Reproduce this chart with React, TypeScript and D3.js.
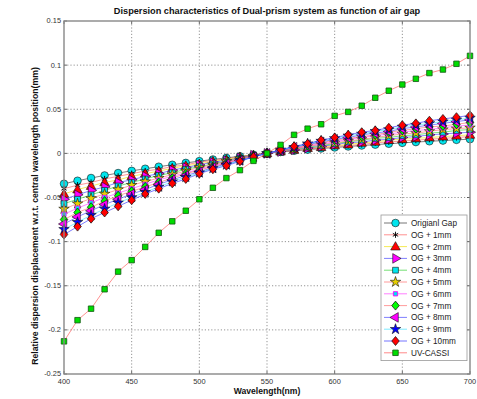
import React from 'react';
import * as d3 from 'd3';

// wavelength samples (nm)
const wavelengths = [400, 410, 420, 430, 440, 450, 460, 470, 480, 490, 500, 510, 520, 530, 540, 550,
  560, 570, 580, 590, 600, 610, 620, 630, 640, 650, 660, 670, 680, 690, 700];

// relative displacement (mm)
const og0 = [-0.0344, -0.031, -0.0279, -0.025, -0.0223, -0.0198, -0.0174, -0.0151, -0.0129, -0.0108, -0.0088, -0.0069, -0.0051, -0.0033, -0.0016, 0,
  0.0015, 0.0029, 0.0042, 0.0055, 0.0067, 0.0078, 0.0089, 0.0099, 0.0109, 0.0119, 0.0128, 0.0137, 0.0145, 0.0153, 0.0161];
const og1 = [-0.040, -0.036, -0.033, -0.029, -0.026, -0.023, -0.020, -0.018, -0.015, -0.013, -0.010, -0.008, -0.006, -0.004, -0.002, 0,
  0.002, 0.003, 0.005, 0.006, 0.008, 0.009, 0.010, 0.012, 0.013, 0.014, 0.015, 0.016, 0.017, 0.018, 0.019];
const og2 = [-0.046, -0.041, -0.037, -0.033, -0.030, -0.026, -0.023, -0.020, -0.017, -0.014, -0.012, -0.009, -0.007, -0.004, -0.002, 0,
  0.002, 0.004, 0.006, 0.007, 0.009, 0.010, 0.012, 0.013, 0.015, 0.016, 0.017, 0.018, 0.019, 0.020, 0.021];
const og3 = [-0.052, -0.047, -0.042, -0.038, -0.033, -0.030, -0.026, -0.023, -0.019, -0.016, -0.013, -0.010, -0.008, -0.005, -0.002, 0,
  0.002, 0.004, 0.006, 0.008, 0.010, 0.012, 0.013, 0.015, 0.016, 0.018, 0.019, 0.021, 0.022, 0.023, 0.024];
const og4 = [-0.057, -0.052, -0.047, -0.042, -0.037, -0.033, -0.029, -0.025, -0.022, -0.018, -0.015, -0.012, -0.009, -0.006, -0.003, 0,
  0.003, 0.005, 0.007, 0.009, 0.011, 0.013, 0.015, 0.017, 0.018, 0.020, 0.021, 0.023, 0.024, 0.026, 0.027];
const og5 = [-0.063, -0.057, -0.051, -0.046, -0.041, -0.036, -0.032, -0.028, -0.024, -0.020, -0.016, -0.013, -0.009, -0.006, -0.003, 0,
  0.003, 0.005, 0.008, 0.010, 0.012, 0.014, 0.016, 0.018, 0.020, 0.022, 0.023, 0.025, 0.027, 0.028, 0.029];
const og6 = [-0.069, -0.062, -0.056, -0.050, -0.045, -0.040, -0.035, -0.030, -0.026, -0.022, -0.018, -0.014, -0.010, -0.007, -0.003, 0,
  0.003, 0.006, 0.008, 0.011, 0.013, 0.016, 0.018, 0.020, 0.022, 0.024, 0.026, 0.027, 0.029, 0.031, 0.032];
const og7 = [-0.075, -0.067, -0.061, -0.054, -0.048, -0.043, -0.038, -0.033, -0.028, -0.023, -0.019, -0.015, -0.011, -0.007, -0.003, 0,
  0.003, 0.006, 0.009, 0.012, 0.015, 0.017, 0.019, 0.021, 0.024, 0.026, 0.028, 0.030, 0.031, 0.033, 0.035];
const og8 = [-0.080, -0.072, -0.065, -0.058, -0.052, -0.046, -0.041, -0.035, -0.030, -0.025, -0.021, -0.016, -0.012, -0.008, -0.004, 0,
  0.003, 0.007, 0.010, 0.013, 0.016, 0.018, 0.021, 0.023, 0.025, 0.028, 0.030, 0.032, 0.034, 0.036, 0.038];
const og9 = [-0.086, -0.078, -0.070, -0.063, -0.056, -0.050, -0.044, -0.038, -0.032, -0.027, -0.022, -0.017, -0.013, -0.008, -0.004, 0,
  0.004, 0.007, 0.011, 0.014, 0.017, 0.020, 0.022, 0.025, 0.027, 0.030, 0.032, 0.034, 0.036, 0.038, 0.040];
const og10 = [-0.092, -0.083, -0.074, -0.067, -0.060, -0.053, -0.046, -0.040, -0.034, -0.029, -0.023, -0.018, -0.014, -0.009, -0.004, 0,
  0.004, 0.008, 0.011, 0.015, 0.018, 0.021, 0.024, 0.026, 0.029, 0.032, 0.034, 0.037, 0.039, 0.041, 0.043];
const uvCassi = [-0.213, -0.189, -0.176, -0.154, -0.134, -0.121, -0.106, -0.090, -0.077, -0.065, -0.052, -0.039, -0.028, -0.019, -0.0085, 0,
  0.0096, 0.021, 0.028, 0.033, 0.0425, 0.047, 0.054, 0.063, 0.071, 0.078, 0.0845, 0.091, 0.095, 0.1015, 0.1105];

const seriesNames = ['Origianl Gap', 'OG + 1mm', 'OG + 2mm', 'OG + 3mm', 'OG + 4mm', 'OG + 5mm',
  'OG + 6mm', 'OG + 7mm', 'OG + 8mm', 'OG + 9mm', 'OG + 10mm', 'UV-CASSI'];

const xTicks = [400, 450, 500, 550, 600, 650, 700];
const yTicks = [-0.25, -0.2, -0.15, -0.1, -0.05, 0, 0.05, 0.1, 0.15];

const series = [
  { values: og0, line: '#333333', marker: 'circle', fill: '#00e5ee' },
  { values: og1, line: '#ff5a5a', marker: 'asterisk', fill: '#000000' },
  { values: og2, line: '#f0e000', marker: 'triUp', fill: '#ff0000' },
  { values: og3, line: '#4040ff', marker: 'triRight', fill: '#ff00ff' },
  { values: og4, line: '#30d030', marker: 'square', fill: '#00e5ee' },
  { values: og5, line: '#ff6a6a', marker: 'star', fill: '#e8d000' },
  { values: og6, line: '#ff40ff', marker: 'small', fill: '#00e5ee' },
  { values: og7, line: '#ff6a6a', marker: 'diamond', fill: '#00ff00' },
  { values: og8, line: '#4040ff', marker: 'triLeft', fill: '#ff00ff' },
  { values: og9, line: '#40e0ff', marker: 'star', fill: '#0000ff' },
  { values: og10, line: '#3030ff', marker: 'diamond', fill: '#ff0000' },
  { values: uvCassi, line: '#ff5050', marker: 'greenSquare', fill: '#00dd00' },
];

const width = 477;
const height = 399;
const x = d3.scaleLinear().domain([400, 700]).range([64, 470]);
const y = d3.scaleLinear().domain([-0.25, 0.15]).range([374, 21]);

const sym = (type: d3.SymbolType, size: number) => d3.symbol().type(type).size(size)() || '';

function Marker({ kind, fill, cx, cy }: { kind: string; fill: string; cx: number; cy: number }) {
  const t = `translate(${cx},${cy})`;
  const edge = { stroke: '#111', strokeWidth: 0.6 };
  switch (kind) {
    case 'circle':
      return <circle cx={cx} cy={cy} r={3.8} fill={fill} {...edge} />;
    case 'asterisk':
      return <path transform={t} d={sym(d3.symbolAsterisk, 26)} fill="none" stroke="#000" strokeWidth={0.9} />;
    case 'triUp':
      return <path transform={`${t} translate(0,0.6)`} d={sym(d3.symbolTriangle, 40)} fill={fill} {...edge} />;
    case 'triRight':
      return <path transform={`${t} rotate(90)`} d={sym(d3.symbolTriangle, 40)} fill={fill} {...edge} />;
    case 'triLeft':
      return <path transform={`${t} rotate(-90)`} d={sym(d3.symbolTriangle, 40)} fill={fill} {...edge} />;
    case 'square':
      return <path transform={t} d={sym(d3.symbolSquare, 34)} fill={fill} {...edge} />;
    case 'small':
      return <path transform={t} d={sym(d3.symbolSquare, 18)} fill={fill} stroke="#ff00ff" strokeWidth={0.9} />;
    case 'star':
      return <path transform={t} d={sym(d3.symbolStar, 34)} fill={fill} {...edge} />;
    case 'diamond':
      return <path transform={`${t} scale(1,1.2) rotate(45)`} d={sym(d3.symbolSquare, 28)} fill={fill} {...edge} />;
    case 'greenSquare':
      return <path transform={t} d={sym(d3.symbolSquare, 30)} fill={fill} stroke="#115511" strokeWidth={0.8} />;
    default:
      return null;
  }
}

export default function App() {
  const line = d3
    .line<number>()
    .x((_, i) => x(wavelengths[i]))
    .y((d) => y(d));

  const [x0, x1] = x.range();
  const [yb, yt] = y.range();
  const font = '"Liberation Sans", Arial, sans-serif';

  const legendX = 381;
  const legendY = 215;
  const rowH = 11.8;

  return (
    <svg
      width={width}
      height={height}
      style={{ position: 'absolute', left: 0, top: 0, background: '#fff' }}
      fontFamily={font}
    >
      <rect x={0} y={0} width={width} height={height} fill="#fff" />

      {/* grid */}
      <g stroke="#666" strokeWidth={0.7} strokeDasharray="1.2,2">
        {xTicks.slice(1, -1).map((t) => (
          <line key={'gx' + t} x1={x(t)} x2={x(t)} y1={yt} y2={yb} />
        ))}
        {yTicks.slice(1, -1).map((t) => (
          <line key={'gy' + t} x1={x0} x2={x1} y1={y(t)} y2={y(t)} />
        ))}
      </g>

      {/* ticks */}
      <g stroke="#444" strokeWidth={0.8}>
        {xTicks.map((t) => (
          <g key={'tx' + t}>
            <line x1={x(t)} x2={x(t)} y1={yb} y2={yb - 3} />
            <line x1={x(t)} x2={x(t)} y1={yt} y2={yt + 3} />
          </g>
        ))}
        {yTicks.map((t) => (
          <g key={'ty' + t}>
            <line x1={x0} x2={x0 + 3} y1={y(t)} y2={y(t)} />
            <line x1={x1} x2={x1 - 3} y1={y(t)} y2={y(t)} />
          </g>
        ))}
      </g>

      {/* series */}
      {series.map((s, k) => (
        <g key={'s' + k}>
          <path d={line(s.values) || ''} fill="none" stroke={s.line} strokeOpacity={0.75} strokeWidth={0.85} />
          {s.values.map((v, i) => (
            <Marker key={i} kind={s.marker} fill={s.fill} cx={x(wavelengths[i])} cy={y(v)} />
          ))}
        </g>
      ))}

      {/* frame */}
      <rect x={x0} y={yt} width={x1 - x0} height={yb - yt} fill="none" stroke="#888" strokeWidth={1.4} />

      {/* tick labels */}
      <g fontSize={7.4} fill="#333">
        {xTicks.map((t) => (
          <text key={'lx' + t} x={x(t)} y={384} textAnchor="middle">
            {t}
          </text>
        ))}
        {yTicks.map((t) => (
          <text key={'ly' + t} x={61} y={y(t) + 2.4} textAnchor="end">
            {String(t)}
          </text>
        ))}
      </g>

      {/* legend */}
      <g>
        <rect
          x={legendX}
          y={legendY}
          width={86}
          height={seriesNames.length * rowH + 4}
          fill="#fff"
          stroke="#999"
          strokeWidth={0.8}
        />
        {series.map((s, k) => {
          const cy = legendY + 8 + k * rowH;
          return (
            <g key={'lg' + k}>
              <line x1={legendX + 3} x2={legendX + 26} y1={cy} y2={cy} stroke={s.line} strokeOpacity={0.75} strokeWidth={0.9} />
              <Marker kind={s.marker} fill={s.fill} cx={legendX + 14.5} cy={cy} />
              <text x={legendX + 30} y={cy + 3} fontSize={8.2} fill="#222">
                {seriesNames[k]}
              </text>
            </g>
          );
        })}
      </g>

      {/* titles */}
      <text x={267} y={14} textAnchor="middle" fontSize={9.2} fontWeight="bold" fill="#111">
        Dispersion characteristics of Dual-prism system as function of air gap
      </text>
      <text x={267} y={394} textAnchor="middle" fontSize={8.6} fontWeight="bold" fill="#111">
        Wavelength(nm)
      </text>
      <text
        transform="translate(38,216) rotate(-90)"
        textAnchor="middle"
        fontSize={8.7}
        fontWeight="bold"
        fill="#111"
      >
        Relative dispersion displacement w.r.t. central wavelength position(mm)
      </text>
    </svg>
  );
}
